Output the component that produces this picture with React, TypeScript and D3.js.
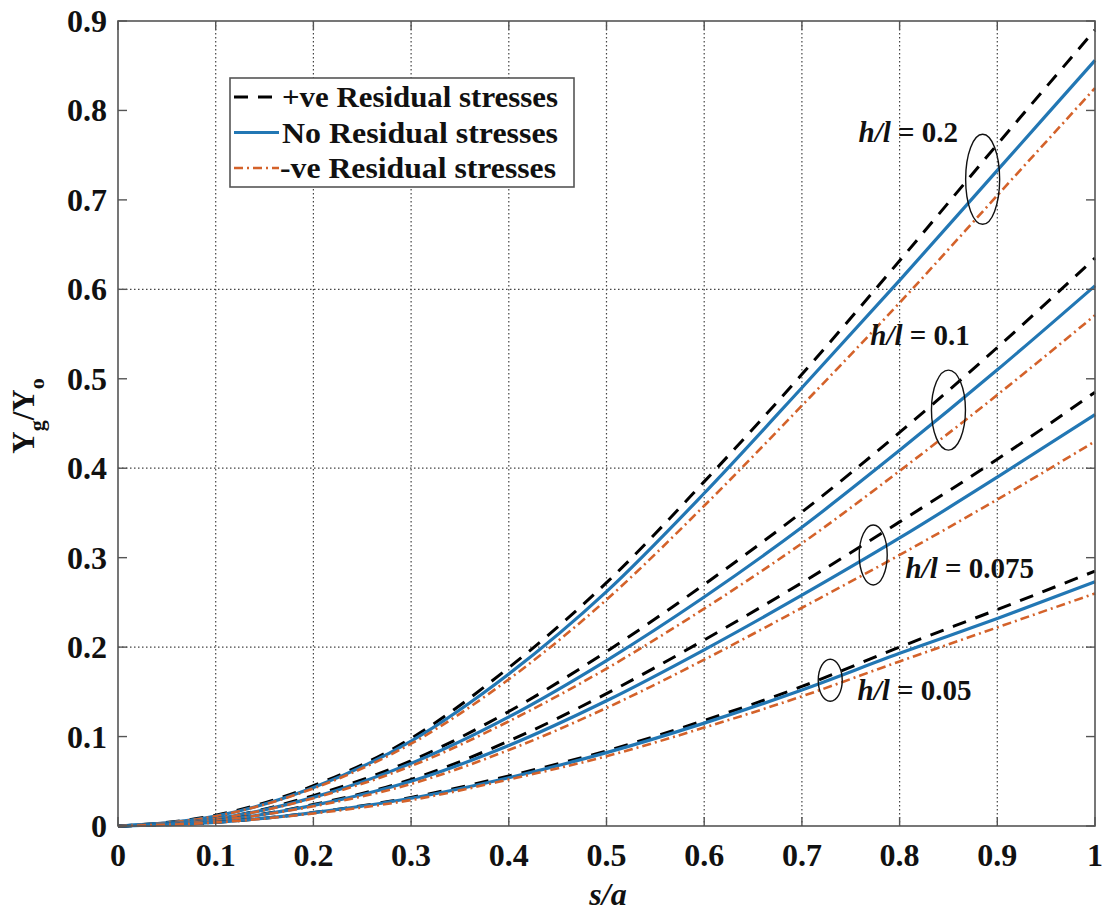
import React from "react";
import * as d3 from "d3";

// s/a sample positions
const sa = [0, 0.1, 0.2, 0.3, 0.4, 0.5, 0.6, 0.7, 0.8, 0.9, 1];

// h/l = 0.2
const pos02 = [0, 0.012, 0.045, 0.098, 0.177, 0.272, 0.385, 0.505, 0.632, 0.762, 0.89];
const no02 = [0, 0.011, 0.043, 0.095, 0.17, 0.262, 0.372, 0.49, 0.61, 0.733, 0.856];
const neg02 = [0, 0.011, 0.042, 0.092, 0.164, 0.253, 0.358, 0.47, 0.585, 0.705, 0.825];

// h/l = 0.1
const pos01 = [0, 0.008, 0.034, 0.073, 0.128, 0.195, 0.27, 0.351, 0.44, 0.535, 0.635];
const no01 = [0, 0.008, 0.032, 0.07, 0.122, 0.185, 0.256, 0.334, 0.42, 0.51, 0.604];
const neg01 = [0, 0.008, 0.031, 0.067, 0.117, 0.176, 0.243, 0.316, 0.397, 0.482, 0.571];

// h/l = 0.075
const pos0075 = [0, 0.006, 0.024, 0.052, 0.095, 0.148, 0.208, 0.272, 0.34, 0.41, 0.485];
const no0075 = [0, 0.006, 0.023, 0.05, 0.09, 0.14, 0.197, 0.258, 0.322, 0.39, 0.46];
const neg0075 = [0, 0.006, 0.022, 0.047, 0.085, 0.132, 0.186, 0.244, 0.303, 0.365, 0.43];

// h/l = 0.05
const pos005 = [0, 0.004, 0.015, 0.032, 0.056, 0.084, 0.118, 0.156, 0.2, 0.242, 0.285];
const no005 = [0, 0.004, 0.015, 0.031, 0.054, 0.082, 0.115, 0.152, 0.193, 0.232, 0.273];
const neg005 = [0, 0.004, 0.014, 0.029, 0.052, 0.078, 0.11, 0.145, 0.184, 0.222, 0.26];

const xTicks = [0, 0.1, 0.2, 0.3, 0.4, 0.5, 0.6, 0.7, 0.8, 0.9, 1];
const xTickLabels = ["0", "0.1", "0.2", "0.3", "0.4", "0.5", "0.6", "0.7", "0.8", "0.9", "1"];
const yTicks = [0, 0.1, 0.2, 0.3, 0.4, 0.5, 0.6, 0.7, 0.8, 0.9];
const yTickLabels = ["0", "0.1", "0.2", "0.3", "0.4", "0.5", "0.6", "0.7", "0.8", "0.9"];
const yGrid = [0.2, 0.4, 0.6];

const legendLabels = ["+ve Residual stresses", "No Residual stresses", "-ve Residual stresses"];

const FONT = "Times New Roman, Liberation Serif, Tinos, Nimbus Roman, serif";
const BLACK = "#000000";
const BLUE = "#2277b4";
const ORANGE = "#d4622a";

const styles = {
  pos: { stroke: BLACK, width: 3, dash: "14,10" },
  no: { stroke: BLUE, width: 3.2, dash: null },
  neg: { stroke: ORANGE, width: 2.6, dash: "9,4,2,4" },
};

const groups = [
  { pos: pos02, no: no02, neg: neg02 },
  { pos: pos01, no: no01, neg: neg01 },
  { pos: pos0075, no: no0075, neg: neg0075 },
  { pos: pos005, no: no005, neg: neg005 },
];

// annotations: label + ellipse, position given in data units
const notes = [
  { label: "0.2", tx: 0.758, ty: 0.765, ex: 0.885, ey: 0.723, rx: 17, ry: 45 },
  { label: "0.1", tx: 0.77, ty: 0.538, ex: 0.85, ey: 0.465, rx: 17, ry: 40 },
  { label: "0.075", tx: 0.806, ty: 0.277, ex: 0.773, ey: 0.303, rx: 14, ry: 30 },
  { label: "0.05", tx: 0.757, ty: 0.141, ex: 0.729, ey: 0.163, rx: 12, ry: 21 },
];

export default function App() {
  const width = 1109;
  const height = 916;
  const left = 118;
  const right = 1095;
  const top = 21;
  const bottom = 826;

  const x = d3.scaleLinear().domain([0, 1]).range([left, right]);
  const y = d3.scaleLinear().domain([0, 0.9]).range([bottom, top]);

  const line = d3
    .line<number>()
    .x((_, i) => x(sa[i]))
    .y((d) => y(d))
    .curve(d3.curveMonotoneX);

  const tickLen = 9;
  const axisColor = "#555555";

  return (
    <svg
      width={width}
      height={height}
      style={{ position: "absolute", left: 0, top: 0, background: "#fff", fontFamily: FONT }}
    >
      <rect x={0} y={0} width={width} height={height} fill="#fff" />

      {/* grid */}
      {xTicks.slice(1, -1).map((t) => (
        <line
          key={"gx" + t}
          x1={x(t)}
          x2={x(t)}
          y1={top}
          y2={bottom}
          stroke="#444"
          strokeWidth={1.2}
          strokeDasharray="1.5,2.5"
        />
      ))}
      {yGrid.map((t) => (
        <line
          key={"gy" + t}
          x1={left}
          x2={right}
          y1={y(t)}
          y2={y(t)}
          stroke="#444"
          strokeWidth={1.2}
          strokeDasharray="1.5,2.5"
        />
      ))}

      {/* curves */}
      {groups.map((g, gi) =>
        (["pos", "no", "neg"] as const).map((k) => (
          <path
            key={gi + k}
            d={line(g[k]) || ""}
            fill="none"
            stroke={styles[k].stroke}
            strokeWidth={styles[k].width}
            strokeDasharray={styles[k].dash || undefined}
          />
        ))
      )}

      {/* axes box */}
      <rect
        x={left}
        y={top}
        width={right - left}
        height={bottom - top}
        fill="none"
        stroke={axisColor}
        strokeWidth={1.6}
      />
      {xTicks.map((t) => (
        <g key={"tx" + t}>
          <line x1={x(t)} x2={x(t)} y1={bottom} y2={bottom - tickLen} stroke={axisColor} strokeWidth={1.4} />
          <line x1={x(t)} x2={x(t)} y1={top} y2={top + tickLen} stroke={axisColor} strokeWidth={1.4} />
        </g>
      ))}
      {yTicks.map((t) => (
        <g key={"ty" + t}>
          <line x1={left} x2={left + tickLen} y1={y(t)} y2={y(t)} stroke={axisColor} strokeWidth={1.4} />
          <line x1={right} x2={right - tickLen} y1={y(t)} y2={y(t)} stroke={axisColor} strokeWidth={1.4} />
        </g>
      ))}

      {/* tick labels */}
      {xTicks.map((t, i) => (
        <text
          key={"lx" + t}
          x={x(t)}
          y={866}
          textAnchor="middle"
          fontSize={32}
          fontWeight="bold"
          fill="#111"
        >
          {xTickLabels[i]}
        </text>
      ))}
      {yTicks.map((t, i) => (
        <text
          key={"ly" + t}
          x={107}
          y={y(t) + 11}
          textAnchor="end"
          fontSize={32}
          fontWeight="bold"
          fill="#111"
        >
          {yTickLabels[i]}
        </text>
      ))}

      {/* axis titles */}
      <text x={608} y={905} textAnchor="middle" fontSize={32} fontWeight="bold" fontStyle="italic" fill="#111">
        s/a
      </text>
      <text
        transform="translate(34,416) rotate(-90)"
        textAnchor="middle"
        fontSize={31}
        fontWeight="bold"
        fill="#111"
      >
        <tspan>Y</tspan>
        <tspan fontSize={22} dy={10}>g</tspan>
        <tspan dy={-10}>/Y</tspan>
        <tspan fontSize={22} dy={10}>o</tspan>
      </text>

      {/* legend */}
      <rect x={230} y={78} width={344} height={109} fill="#fff" stroke={axisColor} strokeWidth={1.6} />
      {(["pos", "no", "neg"] as const).map((k, i) => {
        const cy = 97 + i * 35.5;
        return (
          <g key={"lg" + k}>
            <line
              x1={234}
              x2={279}
              y1={cy}
              y2={cy}
              stroke={styles[k].stroke}
              strokeWidth={styles[k].width}
              strokeDasharray={styles[k].dash || undefined}
            />
            <text
              x={k === "neg" ? 280 : 282}
              y={cy + 10}
              fontSize={29}
              fontWeight="bold"
              fill="#111"
              textLength={276}
              lengthAdjust="spacingAndGlyphs"
            >
              {legendLabels[i]}
            </text>
          </g>
        );
      })}

      {/* annotations */}
      {notes.map((n) => (
        <g key={"n" + n.label}>
          <ellipse
            cx={x(n.ex)}
            cy={y(n.ey)}
            rx={n.rx}
            ry={n.ry}
            fill="none"
            stroke="#111"
            strokeWidth={1.4}
          />
          <text x={x(n.tx)} y={y(n.ty)} fontSize={29} fontWeight="bold" fill="#111">
            <tspan fontStyle="italic">h/l</tspan>
            <tspan> = {n.label}</tspan>
          </text>
        </g>
      ))}
    </svg>
  );
}
